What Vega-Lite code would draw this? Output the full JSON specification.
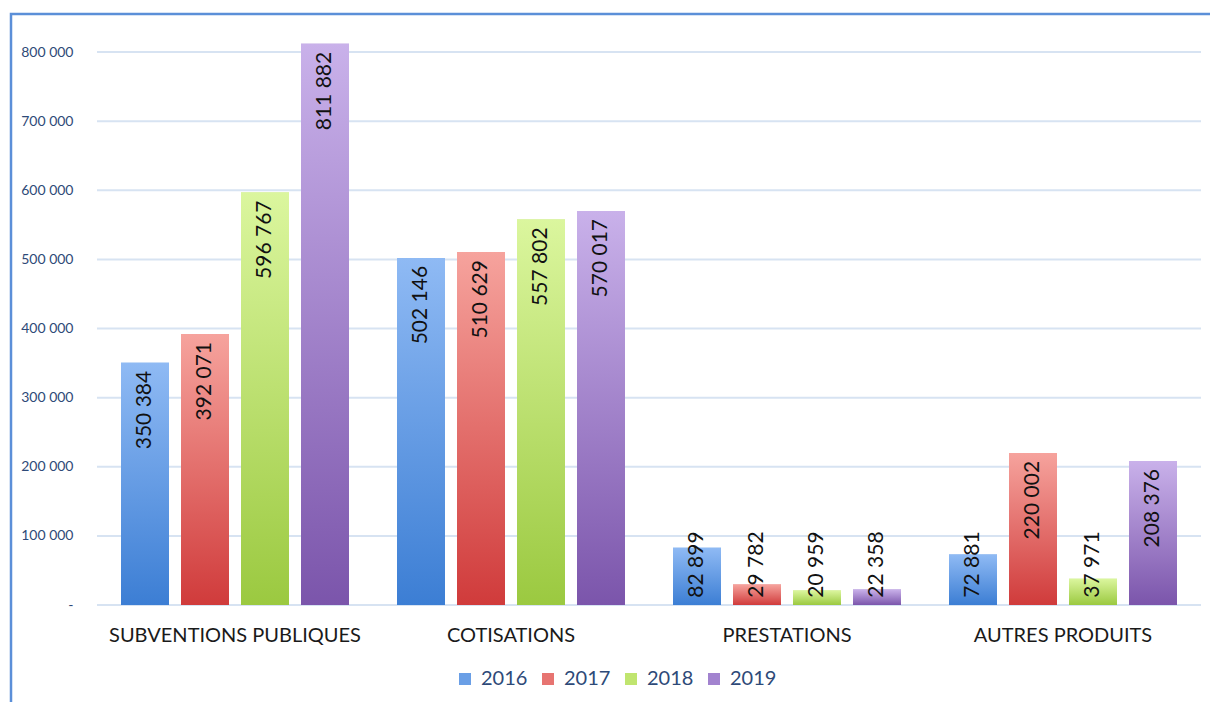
{
  "$schema": "https://vega.github.io/schema/vega-lite/v6.json",
  "width": 1220,
  "height": 698,
  "autosize": "none",
  "padding": {"left": 11, "top": 14, "right": 0, "bottom": 0},
  "background": "white",
  "config": {
    "locale": {"number": {"decimal": ",", "thousands": " ", "grouping": [3], "currency": ["", " €"]}},
    "view": {"stroke": "#5b8fd8", "strokeWidth": 2.5},
    "font": "Lato"
  },
  "datasets": {
    "produits": [
      {"categorie": "SUBVENTIONS PUBLIQUES", "annee": "2016", "valeur": 350384},
      {"categorie": "SUBVENTIONS PUBLIQUES", "annee": "2017", "valeur": 392071},
      {"categorie": "SUBVENTIONS PUBLIQUES", "annee": "2018", "valeur": 596767},
      {"categorie": "SUBVENTIONS PUBLIQUES", "annee": "2019", "valeur": 811882},
      {"categorie": "COTISATIONS", "annee": "2016", "valeur": 502146},
      {"categorie": "COTISATIONS", "annee": "2017", "valeur": 510629},
      {"categorie": "COTISATIONS", "annee": "2018", "valeur": 557802},
      {"categorie": "COTISATIONS", "annee": "2019", "valeur": 570017},
      {"categorie": "PRESTATIONS", "annee": "2016", "valeur": 82899},
      {"categorie": "PRESTATIONS", "annee": "2017", "valeur": 29782},
      {"categorie": "PRESTATIONS", "annee": "2018", "valeur": 20959},
      {"categorie": "PRESTATIONS", "annee": "2019", "valeur": 22358},
      {"categorie": "AUTRES PRODUITS", "annee": "2016", "valeur": 72881},
      {"categorie": "AUTRES PRODUITS", "annee": "2017", "valeur": 220002},
      {"categorie": "AUTRES PRODUITS", "annee": "2018", "valeur": 37971},
      {"categorie": "AUTRES PRODUITS", "annee": "2019", "valeur": 208376}
    ],
    "grille": [
      {"v": 0}, {"v": 100000}, {"v": 200000}, {"v": 300000}, {"v": 400000},
      {"v": 500000}, {"v": 600000}, {"v": 700000}, {"v": 800000}
    ]
  },
  "data": {"name": "produits"},
  "encoding": {
    "x": {
      "field": "categorie", "type": "nominal",
      "scale": {"domain": ["SUBVENTIONS PUBLIQUES", "COTISATIONS", "PRESTATIONS", "AUTRES PRODUITS"], "paddingInner": 0, "paddingOuter": 0.21014, "align": 0.7414},
      "axis": {"title": null, "offset": -107, "labelAngle": 0, "labelFontSize": 20, "labelColor": "#1a1a1a", "labelPadding": 20, "labelLimit": 0, "ticks": false, "domain": false, "grid": false}
    }
  },
  "layer": [
    {
      "data": {"name": "grille"},
      "mark": {"type": "tick", "size": 276, "thickness": 2, "color": "#d7e3f2", "opacity": 1},
      "encoding": {"x": {"datum": "SUBVENTIONS PUBLIQUES", "type": "nominal"}, "y": {"field": "v", "type": "quantitative"}}
    },
    {
      "data": {"name": "grille"},
      "mark": {"type": "tick", "size": 276, "thickness": 2, "color": "#d7e3f2", "opacity": 1},
      "encoding": {"x": {"datum": "COTISATIONS", "type": "nominal"}, "y": {"field": "v", "type": "quantitative"}}
    },
    {
      "data": {"name": "grille"},
      "mark": {"type": "tick", "size": 276, "thickness": 2, "color": "#d7e3f2", "opacity": 1},
      "encoding": {"x": {"datum": "PRESTATIONS", "type": "nominal"}, "y": {"field": "v", "type": "quantitative"}}
    },
    {
      "data": {"name": "grille"},
      "mark": {"type": "tick", "size": 276, "thickness": 2, "color": "#d7e3f2", "opacity": 1},
      "encoding": {"x": {"datum": "AUTRES PRODUITS", "type": "nominal"}, "y": {"field": "v", "type": "quantitative"}}
    },
    {
      "mark": {"type": "bar"},
      "encoding": {
        "xOffset": {"field": "annee", "type": "nominal", "scale": {"domain": ["2016", "2017", "2018", "2019"], "paddingInner": 0.2, "paddingOuter": 0.4}},
        "y": {
          "field": "valeur", "type": "quantitative",
          "scale": {"domain": [-154792, 854973], "nice": false, "zero": false},
          "axis": {
            "title": null, "offset": -86, "values": [0, 100000, 200000, 300000, 400000, 500000, 600000, 700000, 800000],
            "format": ",d", "labelExpr": "datum.value == 0 ? '-' : datum.label",
            "labelFontSize": 14, "labelColor": "#2e4a78", "labelPadding": 24,
            "ticks": false, "domain": false, "grid": false
          }
        },
        "color": {
          "field": "annee", "type": "nominal",
          "scale": {"domain": ["2016", "2017", "2018", "2019"], "range": ["#6a9fe6", "#e77471", "#c0e56f", "#a283cf"]},
          "legend": {
            "title": null, "orient": "none", "direction": "horizontal", "legendX": 444, "legendY": 655,
            "labelFontSize": 20, "labelColor": "#2e4a78", "symbolType": "square", "symbolSize": 144,
            "symbolStrokeWidth": 0, "columnPadding": 10, "labelOffset": 6
          }
        }
      }
    },
    {
      "transform": [{"filter": "datum.annee == '2016'"}],
      "mark": {"type": "bar", "color": {"gradient": "linear", "x1": 0, "y1": 0, "x2": 0, "y2": 1, "stops": [{"offset": 0, "color": "#8fbaf4"}, {"offset": 1, "color": "#3c7ed4"}]}},
      "encoding": {
        "xOffset": {"field": "annee", "type": "nominal"},
        "y": {"field": "valeur", "type": "quantitative"}
      }
    },
    {
      "transform": [{"filter": "datum.annee == '2017'"}],
      "mark": {"type": "bar", "color": {"gradient": "linear", "x1": 0, "y1": 0, "x2": 0, "y2": 1, "stops": [{"offset": 0, "color": "#f6a39d"}, {"offset": 1, "color": "#d03b3b"}]}},
      "encoding": {
        "xOffset": {"field": "annee", "type": "nominal"},
        "y": {"field": "valeur", "type": "quantitative"}
      }
    },
    {
      "transform": [{"filter": "datum.annee == '2018'"}],
      "mark": {"type": "bar", "color": {"gradient": "linear", "x1": 0, "y1": 0, "x2": 0, "y2": 1, "stops": [{"offset": 0, "color": "#dbf69e"}, {"offset": 1, "color": "#9bc940"}]}},
      "encoding": {
        "xOffset": {"field": "annee", "type": "nominal"},
        "y": {"field": "valeur", "type": "quantitative"}
      }
    },
    {
      "transform": [{"filter": "datum.annee == '2019'"}],
      "mark": {"type": "bar", "color": {"gradient": "linear", "x1": 0, "y1": 0, "x2": 0, "y2": 1, "stops": [{"offset": 0, "color": "#c9b1ea"}, {"offset": 1, "color": "#7b55ab"}]}},
      "encoding": {
        "xOffset": {"field": "annee", "type": "nominal"},
        "y": {"field": "valeur", "type": "quantitative"}
      }
    },
    {
      "transform": [{"filter": "datum.valeur >= 100000"}],
      "mark": {"type": "text", "angle": 270, "align": "right", "baseline": "middle", "dx": -8, "fontSize": 21, "color": "#111111"},
      "encoding": {
        "xOffset": {"field": "annee", "type": "nominal"},
        "y": {"field": "valeur", "type": "quantitative"},
        "text": {"field": "valeur", "type": "quantitative", "format": ",d"}
      }
    },
    {
      "transform": [{"filter": "datum.valeur < 100000"}],
      "mark": {"type": "text", "angle": 270, "align": "right", "baseline": "middle", "dx": -8, "fontSize": 21, "color": "#111111"},
      "encoding": {
        "xOffset": {"field": "annee", "type": "nominal"},
        "y": {"datum": 118000, "type": "quantitative"},
        "text": {"field": "valeur", "type": "quantitative", "format": ",d"}
      }
    }
  ]
}
